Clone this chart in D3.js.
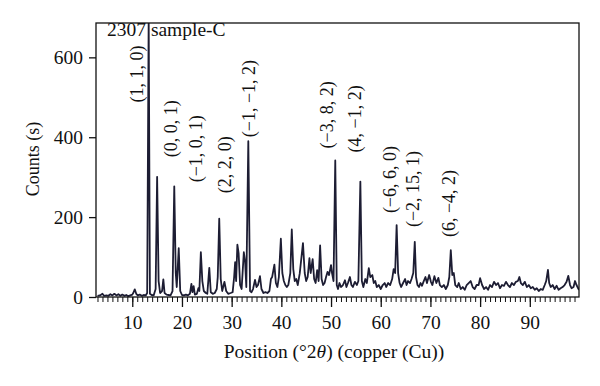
<!DOCTYPE html>
<html>
<head>
<meta charset="utf-8">
<script src="https://cdn.jsdelivr.net/npm/d3@7"></script>
<style>
    body { margin: 0; background: #fff; }
    text { font-family: "Liberation Serif", "DejaVu Serif", serif; fill: #111; }
</style>
</head>
<body>
<svg id="chart" width="600" height="386"></svg>
<script>

// ========== DATA ==========

const sampleName = "2307 sample-C";

// measured pattern, [position 2theta, counts]
const pattern = [
    [3.0, 3], [3.5, 4], [4.0, 8], [4.3, 3], [4.8, 4], [5.2, 3], [5.6, 7], [6.0, 4],
    [6.4, 8], [6.8, 4], [7.2, 7], [7.6, 3], [8.0, 6], [8.4, 3], [8.8, 5], [9.2, 2],
    [9.6, 4], [10.0, 6], [10.2, 10], [10.5, 19], [10.8, 8], [11.1, 4], [11.5, 6], [11.9, 3],
    [12.3, 5], [12.7, 4], [13.0, 10], [13.3, 700], [13.55, 8], [13.9, 5], [14.3, 4], [14.7, 20],
    [15.0, 301], [15.3, 40], [15.6, 10], [16.0, 15], [16.25, 44], [16.5, 10], [16.9, 6], [17.3, 5],
    [17.7, 4], [18.1, 15], [18.45, 277], [18.75, 60], [18.95, 25], [19.35, 122], [19.65, 15], [20.0, 5],
    [20.4, 4], [20.8, 6], [21.2, 4], [21.6, 8], [21.9, 33], [22.1, 12], [22.35, 27], [22.6, 6],
    [23.0, 8], [23.3, 22], [23.5, 15], [23.8, 112], [24.1, 40], [24.4, 15], [24.8, 10], [25.1, 8],
    [25.5, 73], [25.8, 12], [26.2, 8], [26.6, 10], [27.0, 20], [27.2, 50], [27.5, 196], [27.8, 45],
    [28.1, 15], [28.55, 38], [28.9, 15], [29.3, 8], [29.8, 10], [30.2, 12], [30.5, 50], [30.7, 87],
    [30.9, 40], [31.15, 131], [31.4, 110], [31.7, 30], [32.0, 20], [32.2, 60], [32.45, 112], [32.7, 90],
    [32.95, 25], [33.35, 390], [33.7, 15], [34.0, 12], [34.3, 20], [34.7, 43], [35.0, 25], [35.3, 30],
    [35.7, 52], [36.0, 20], [36.4, 10], [36.8, 12], [37.2, 10], [37.6, 15], [37.9, 45], [38.15, 50],
    [38.6, 81], [38.9, 35], [39.2, 25], [39.5, 50], [39.9, 146], [40.2, 60], [40.5, 40], [40.8, 30],
    [41.1, 25], [41.4, 30], [41.8, 60], [42.1, 169], [42.4, 70], [42.7, 40], [43.0, 45], [43.3, 30],
    [43.7, 59], [44.35, 135], [44.7, 60], [45.0, 40], [45.3, 50], [45.65, 97], [45.9, 60], [46.3, 95],
    [46.6, 45], [46.9, 35], [47.2, 67], [47.5, 40], [47.8, 129], [48.1, 45], [48.4, 30], [48.7, 35],
    [49.0, 50], [49.3, 63], [49.6, 55], [50.0, 80], [50.2, 60], [50.5, 40], [50.85, 342], [51.15, 30],
    [51.4, 20], [51.7, 35], [52.0, 25], [52.4, 30], [52.8, 42], [53.1, 25], [53.4, 35], [53.8, 50],
    [54.1, 30], [54.4, 25], [54.8, 38], [55.2, 30], [55.5, 40], [55.9, 289], [56.2, 40], [56.5, 25],
    [56.9, 45], [57.2, 35], [57.6, 72], [57.9, 50], [58.3, 55], [58.6, 35], [58.9, 40], [59.2, 25],
    [59.6, 30], [60.0, 20], [60.4, 30], [60.8, 35], [61.1, 25], [61.5, 35], [61.9, 30], [62.3, 45],
    [62.6, 70], [62.9, 60], [63.2, 180], [63.5, 60], [63.8, 35], [64.1, 25], [64.5, 35], [64.9, 45],
    [65.2, 30], [65.5, 40], [65.9, 35], [66.2, 45], [66.55, 60], [66.85, 138], [67.1, 50], [67.4, 30],
    [67.7, 25], [68.0, 35], [68.3, 28], [68.6, 38], [69.0, 50], [69.3, 35], [69.75, 55], [70.1, 38],
    [70.4, 30], [70.8, 52], [71.2, 35], [71.6, 48], [71.9, 30], [72.3, 25], [72.7, 30], [73.1, 20],
    [73.5, 30], [73.8, 50], [74.1, 117], [74.4, 55], [74.7, 60], [75.0, 30], [75.4, 25], [75.7, 35],
    [76.1, 20], [76.5, 25], [76.9, 18], [77.3, 30], [77.7, 35], [78.1, 40], [78.5, 25], [78.9, 20],
    [79.3, 30], [79.7, 30], [80.0, 47], [80.4, 30], [80.8, 20], [81.2, 25], [81.6, 18], [82.0, 30],
    [82.4, 25], [82.8, 38], [83.2, 30], [83.6, 35], [84.0, 22], [84.4, 30], [84.8, 28], [85.2, 38],
    [85.6, 30], [86.0, 25], [86.4, 35], [86.8, 30], [87.2, 38], [87.6, 40], [87.9, 50], [88.2, 35],
    [88.6, 30], [89.0, 38], [89.4, 25], [89.8, 30], [90.2, 22], [90.6, 25], [91.0, 18], [91.4, 22],
    [91.8, 15], [92.2, 20], [92.6, 18], [93.0, 30], [93.3, 40], [93.65, 68], [93.9, 35], [94.2, 25],
    [94.6, 30], [95.0, 20], [95.4, 28], [95.8, 18], [96.2, 22], [96.6, 25], [97.0, 30], [97.4, 38],
    [97.75, 53], [98.1, 30], [98.4, 22], [98.8, 25], [99.1, 40], [99.4, 30], [99.8, 20], [100.0, 18]
];

// reflection labels: hkl text, 2theta of label centre, counts where the label starts
const reflectionHkl = ["(1, 1, 0)", "(0, 0, 1)", "(\u22121, 0, 1)", "(2, 2, 0)", "(\u22121, \u22121, 2)",
    "(\u22123, 8, 2)", "(4, \u22121, 2)", "(\u22126, 6, 0)", "(\u22122, 15, 1)", "(6, \u22124, 2)"];
const reflectionPos = [10.95, 17.8, 22.7, 28.55, 33.5, 49.1, 54.8, 61.85, 66.4, 73.6];
const reflectionLevel = [487, 350, 287, 260, 400, 372, 362, 210, 175, 150];

const xTicks = [10, 20, 30, 40, 50, 60, 70, 80, 90];
const yTicks = [0, 200, 400, 600];
const xDomain = [2.7, 99.9];
const yDomain = [0, 686];


// ========== MAIN CODE ==========

const W = 600, H = 386;
const margin = { top: 23, right: 21, bottom: 89, left: 96 };

const svg = d3.select("#chart");

const x = d3.scaleLinear()
    .domain(xDomain)
    .range([margin.left, W - margin.right]);

const y = d3.scaleLinear()
    .domain(yDomain)
    .range([H - margin.bottom, margin.top]);

svg.append("defs").append("clipPath")
    .attr("id", "plot-clip")
    .append("rect")
    .attr("x", margin.left)
    .attr("y", margin.top)
    .attr("width", W - margin.left - margin.right)
    .attr("height", H - margin.top - margin.bottom);

// pattern line
const line = d3.line()
    .x(d => x(d[0]))
    .y(d => y(d[1]));

svg.append("path")
    .datum(pattern)
    .attr("clip-path", "url(#plot-clip)")
    .attr("fill", "none")
    .attr("stroke", "#1d1d33")
    .attr("stroke-width", 1.8)
    .attr("stroke-linejoin", "round")
    .attr("d", line);

// frame
svg.append("rect")
    .attr("x", margin.left)
    .attr("y", margin.top)
    .attr("width", W - margin.left - margin.right)
    .attr("height", H - margin.top - margin.bottom)
    .attr("fill", "none")
    .attr("stroke", "#111")
    .attr("stroke-width", 1.3);

// x axis: minor ticks every degree, labelled every 10
const minorTicks = d3.range(3, 100);

const xMinor = d3.axisBottom(x)
    .tickValues(minorTicks)
    .tickSize(5)
    .tickFormat("");

const xMajor = d3.axisBottom(x)
    .tickValues(xTicks)
    .tickSize(10)
    .tickPadding(8)
    .tickFormat(d3.format("d"));

svg.append("g")
    .attr("transform", "translate(0," + (H - margin.bottom) + ")")
    .call(xMinor)
    .call(g => g.select(".domain").remove())
    .selectAll("line").attr("stroke", "#111");

svg.append("g")
    .attr("class", "x axis")
    .attr("transform", "translate(0," + (H - margin.bottom) + ")")
    .call(xMajor)
    .call(g => g.select(".domain").remove())
    .call(g => g.selectAll("line").attr("stroke", "#111").attr("stroke-width", 1.3))
    .call(g => g.selectAll("text").attr("font-size", 19.5).attr("font-family", null));

const yAxis = d3.axisLeft(y)
    .tickValues(yTicks)
    .tickSize(7)
    .tickPadding(6)
    .tickFormat(d3.format("d"));

svg.append("g")
    .attr("class", "y axis")
    .attr("transform", "translate(" + margin.left + ",0)")
    .call(yAxis)
    .call(g => g.select(".domain").remove())
    .call(g => g.selectAll("line").attr("stroke", "#111").attr("stroke-width", 1.3))
    .call(g => g.selectAll("text").attr("font-size", 19.5).attr("font-family", null));

// axis titles
const xTitle = svg.append("text")
    .attr("x", 334)
    .attr("y", 358)
    .attr("text-anchor", "middle")
    .attr("font-size", 19.5);
xTitle.append("tspan").text("Position (\u00b02");
xTitle.append("tspan").attr("font-style", "italic").text("\u03b8");
xTitle.append("tspan").text(") (copper (Cu))");

svg.append("text")
    .attr("transform", "translate(39,159) rotate(-90)")
    .attr("text-anchor", "middle")
    .attr("font-size", 18)
    .text("Counts (s)");

// sample name
svg.append("text")
    .attr("x", 107)
    .attr("y", 36)
    .attr("font-size", 19.5)
    .text(sampleName);

// reflection labels
svg.selectAll("text.hkl")
    .data(reflectionHkl)
    .enter().append("text")
    .attr("class", "hkl")
    .attr("transform", (d, i) => "translate(" + x(reflectionPos[i]) + "," + y(reflectionLevel[i]) + ") rotate(-90)")
    .attr("dy", "0.35em")
    .attr("font-size", 18)
    .text(d => d);

</script>
</body>
</html>
